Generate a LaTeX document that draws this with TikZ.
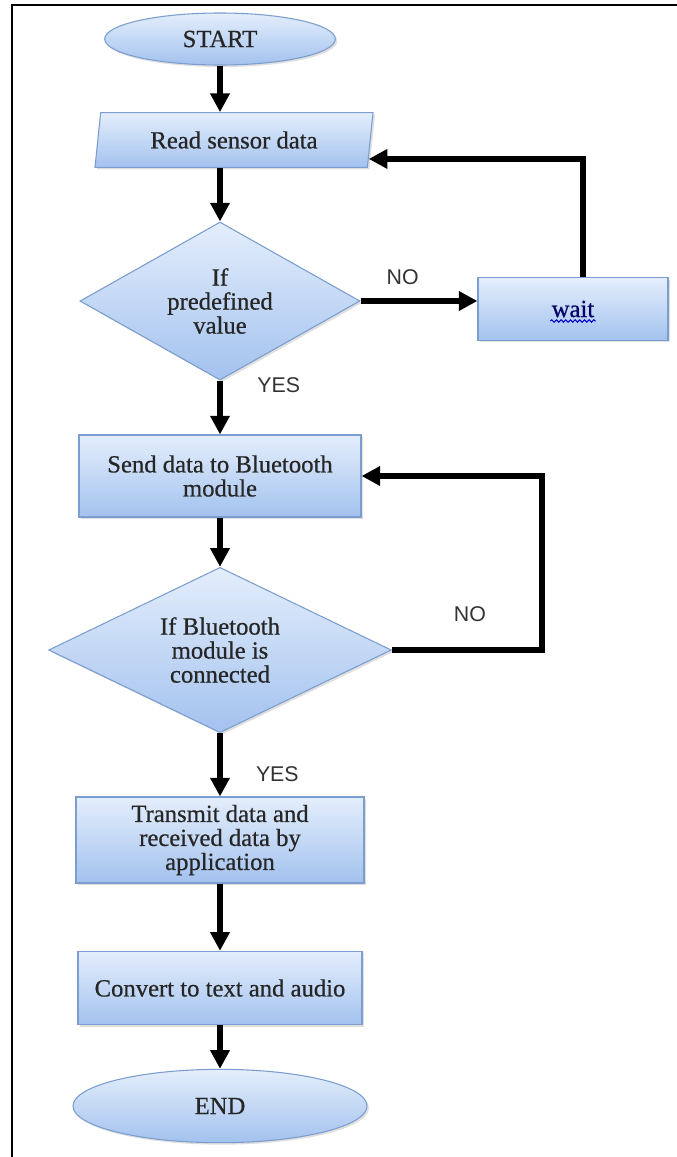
\documentclass[tikz,border=0pt]{standalone}
\usepackage{fontspec}
\setmainfont{Liberation Serif}
\newfontfamily\boxfont{Liberation Serif}[FakeBold=0.6]
\newfontfamily\labelfont{Liberation Sans}
\usetikzlibrary{shapes.geometric,arrows.meta,shadows,positioning,decorations.pathmorphing}
\definecolor{boxline}{HTML}{7B9DCF}
\definecolor{boxtop}{HTML}{E4EEFC}
\definecolor{boxbot}{HTML}{A3C2EE}
\tikzset{
  shapebase/.style={draw=boxline, line width=0.8pt, top color=boxtop, bottom color=boxbot,
    inner sep=0pt, align=center, text=black!85, font=\boxfont\fontsize{18.5}{18}\selectfont,
    drop shadow={shadow xshift=1.5pt,shadow yshift=-1.5pt,opacity=0.25}},
  terminal/.style={shapebase, ellipse},
  iobox/.style={shapebase, trapezium, trapezium left angle=72, trapezium right angle=108,
    trapezium stretches body},
  decision/.style={shapebase, diamond, aspect=2},
  process/.style={shapebase, rectangle},
  flow/.style={line width=4pt, -{Triangle[length=14pt,width=14pt]}},
  answer/.style={font=\labelfont\fontsize{16}{18}\selectfont, text=black!80, inner sep=0pt},
  squiggle/.style={blue!80!black, line width=0.8pt, decorate,
    decoration={snake, amplitude=0.9pt, segment length=3.5pt}}
}
\begin{document}
\begin{tikzpicture}[x=0.75pt,y=-0.75pt]
\useasboundingbox (0,0) rectangle (677,1157);
\draw[line width=1.5pt] (12,1157) -- (12,5) -- (677,5);
\node[terminal, minimum width=173pt, minimum height=39pt] (start) at (220,39) {START};
\node[iobox, minimum width=208.5pt, minimum height=41pt] (read) at (234,140) {Read sensor data};
\node[decision, minimum width=210pt, minimum height=118.5pt] (ifval) at (220,301) {If\\predefined\\value};
\node[process, minimum width=142.5pt, minimum height=47pt] (wait) at (573,309) {\textcolor{blue!40!black}{wait}};
\draw[squiggle] ([xshift=-17pt,yshift=-9pt]wait.center) -- ([xshift=17pt,yshift=-9pt]wait.center);
\node[process, minimum width=211.5pt, minimum height=61.5pt] (send) at (220,476) {Send data to Bluetooth\\module};
\node[decision, minimum width=257pt, minimum height=124pt] (ifbt) at (220,650) {If Bluetooth\\module is\\connected};
\node[process, minimum width=216pt, minimum height=64.5pt] (trans) at (220,840) {Transmit data and\\received data by\\application};
\node[process, minimum width=213pt, minimum height=55pt] (conv) at (220,988) {Convert to text and audio};
\node[terminal, minimum width=220.5pt, minimum height=55pt] (stop) at (220,1106) {END};
\draw[flow] (start.south) -- (start.south |- read.north);
\draw[flow] (read.south -| start.south) -- (ifval.north);
\draw[flow] (ifval.east) -- node[answer, above=10pt, pos=0.36] (no1) {NO} (ifval.east -| wait.west);
\draw[flow] ([xshift=7.5pt]wait.north) |- (read.-8);
\draw[flow] (ifval.south) -- node[answer, right=26pt, pos=0.08] (yes1) {YES} (send.north);
\draw[flow] (send.south) -- (ifbt.north);
\draw[flow] (ifbt.east) -- node[answer, above=19pt, pos=0.52] (no2) {NO} ++(150,0) |- (send.east);
\draw[flow] (ifbt.south) -- node[answer, right=25pt, pos=0.65] (yes2) {YES} (trans.north);
\draw[flow] (trans.south) -- (conv.north);
\draw[flow] (conv.south) -- (stop.north);
\end{tikzpicture}
\end{document}
